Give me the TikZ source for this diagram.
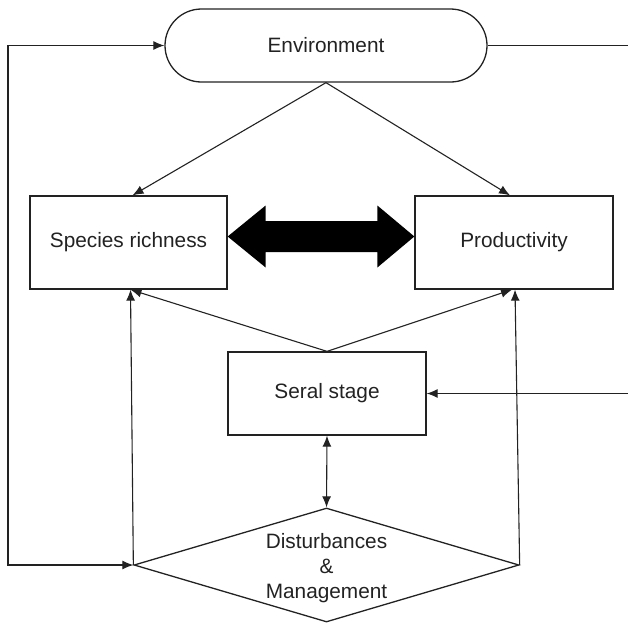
\documentclass[tikz,border=0pt]{standalone}
\usepackage{fontspec}
\setmainfont{Liberation Sans}
\usepackage{tikz}
\usetikzlibrary{positioning,arrows.meta,calc,shapes.misc,shapes.geometric}
\definecolor{ink}{HTML}{222222}

\begin{document}
\begin{tikzpicture}[x=1pt, y=-1pt, >={Latex[length=11pt,width=9pt]},
    font=\fontsize{20.8}{24.8}\selectfont, text=ink,
    box/.style={draw=ink, line width=1.3pt, rectangle, inner sep=0pt},
    envbox/.style={draw=ink, line width=1.3pt, rounded rectangle, inner sep=0pt, minimum width=322pt, minimum height=73pt},
    dstbox/.style={draw=ink, line width=1.3pt, diamond, inner sep=0pt, minimum width=385pt, minimum height=114pt},
    link/.style={draw=ink, line width=1.1pt}]
    \useasboundingbox (0,0) rectangle (628,624);
    % boxes
    \node[envbox] (env) at (326,45.5) {Environment};
    \node[box, minimum width=197pt, minimum height=93pt] (sr) at (128.5,242.5) {Species richness};
    \node[box, minimum width=198pt, minimum height=93pt] (prod) at (514,242.5) {Productivity};
    \node[box, minimum width=198pt, minimum height=83pt] (seral) at (327,393.5) {Seral stage};
    \node[dstbox] (dist) at (326.5,565) {};
    \node[align=center] (distlbl) at ([yshift=-3pt]dist.center) {Disturbances\\ \&\\ Management};
    % free ends of the loops
    \coordinate (lft) at (8,45.5);
    \coordinate (rgt) at (628,45.5);
    \coordinate (rgts) at (628,393.5);
    % links
    \draw[link,->] (env.south) -- ([xshift=4pt]sr.north);
    \draw[link,->] (env.south) -- ([xshift=-4pt]prod.north);
    \draw[link,->] (seral.north) -- ([xshift=2pt]sr.south);
    \draw[link,->] (seral.north) -- ([xshift=-2pt]prod.south);
    \draw[link,->] (dist.west) -- ([xshift=2pt]sr.south);
    \draw[link,->] (dist.east) -- ([xshift=1pt]prod.south);
    \draw[link,<->] (seral.south) -- (dist.north);
    \draw[link,<->] (env.west) -- (lft) |- (dist.west);
    \draw[link] (env.east) -- (rgt);
    \draw[link,->] (rgts) -- (seral.east);
    % big two-way arrow
    \coordinate (bl) at ([yshift=6pt]sr.east);
    \coordinate (br) at ([yshift=6pt]prod.west);
    \fill[black] (bl) -- ++(38,-31) -- ++(0,15.5) -- ($(br)+(-37,-15.5)$) -- ++(0,-15.5)
      -- (br) -- ++(-37,31) -- ++(0,-15.5) -- ($(bl)+(38,15.5)$) -- ++(0,15.5) -- cycle;
\end{tikzpicture}
\end{document}
